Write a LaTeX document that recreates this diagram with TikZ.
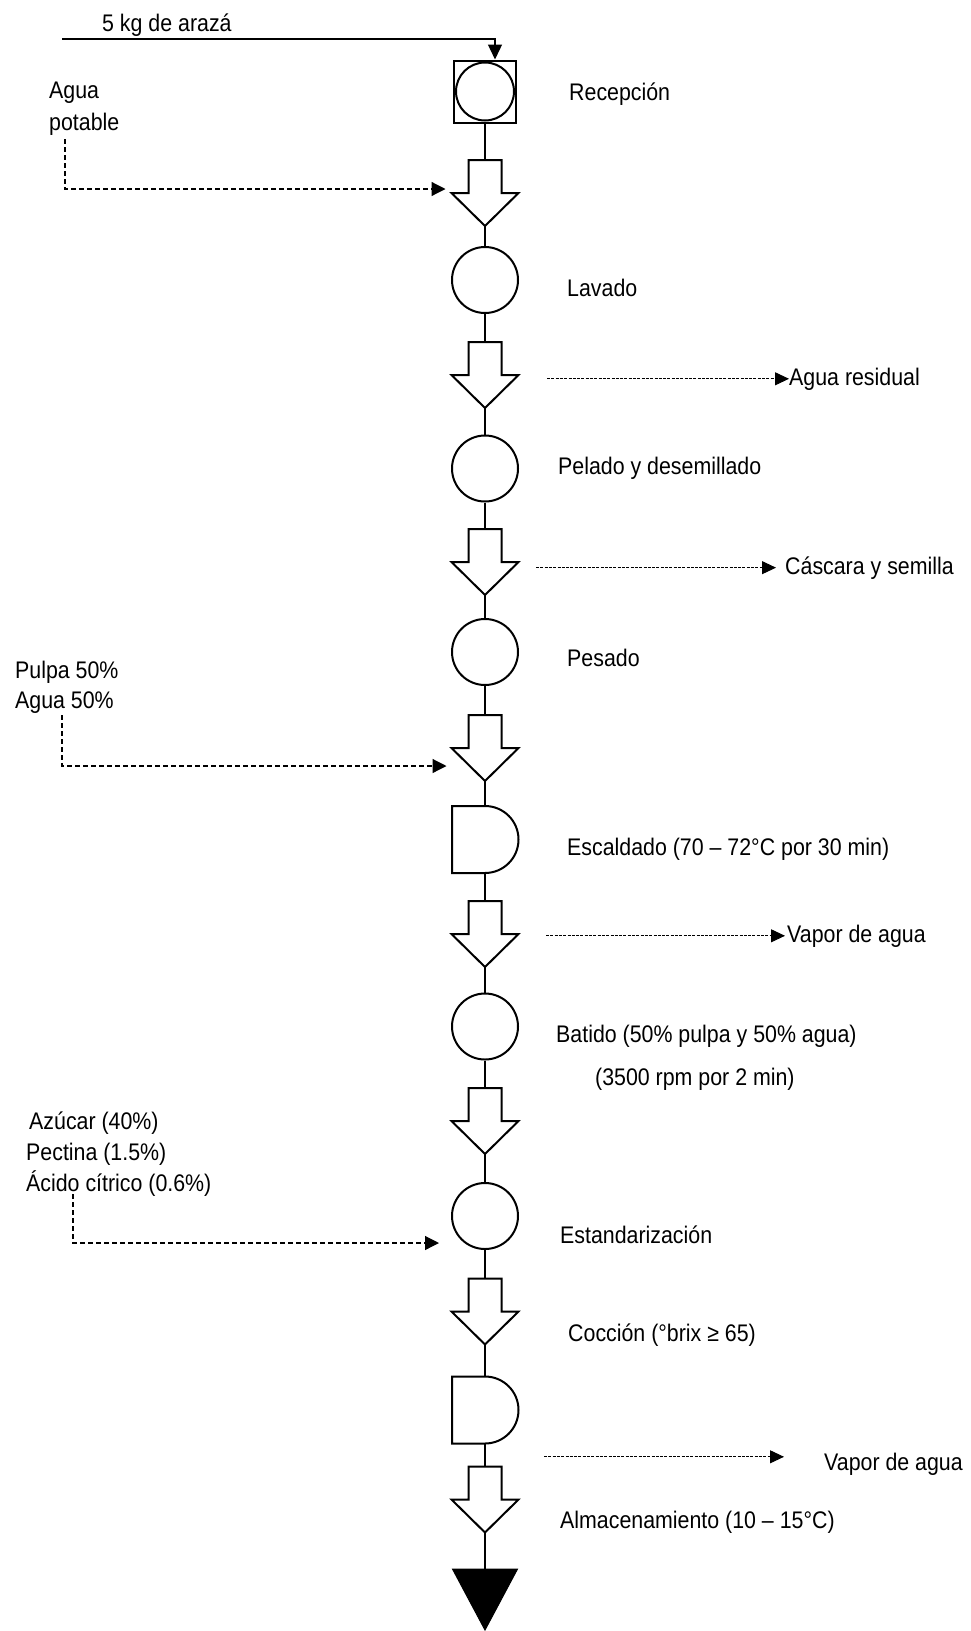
\documentclass[tikz,border=0pt]{standalone}
\usepackage{fontspec}
\setmainfont{Liberation Sans}[FakeStretch=0.89]
\usetikzlibrary{arrows.meta,positioning}

\tikzset{
    forma/.style={draw, line width=2pt, fill=white},
    operacion/.style={forma, circle, minimum size=66pt, inner sep=0pt},
    texto/.style={anchor=base west, inner sep=0pt, font=\fontsize{24}{28}\selectfont},
    materia/.style={line width=1.3pt, -{Triangle[length=15pt, width=14pt]}},
    entrada/.style={line width=1.2pt, dash pattern=on 5pt off 3pt, -{Triangle[length=14pt, width=14pt]}},
    salida/.style={line width=1pt, dash pattern=on 3pt off 1.3pt, -{Triangle[length=14pt, width=13pt]}},
    union/.style={line width=2pt},
    flecha/.pic={
        \draw[forma] (-16.5,33) -- (16.5,33) -- (16.5,0) -- (33.5,0) -- (0,-33) -- (-33.5,0) -- (-16.5,0) -- cycle;
        \coordinate (-arriba) at (0,33);
        \coordinate (-abajo) at (0,-33);
        \coordinate (-izq) at (-33.5,0);
        \coordinate (-der) at (33.5,0);
    },
    demora/.pic={
        \draw[forma] (0,33.5) -- (-33,33.5) -- (-33,-33.5) -- (0,-33.5) arc (-90:90:33.5) -- cycle;
        \coordinate (-arriba) at (0,33.5);
        \coordinate (-abajo) at (0,-33.5);
        \coordinate (-der) at (33.5,0);
    },
    almacen/.pic={
        \filldraw[line width=1pt, line join=miter] (-32.5,30.5) -- (32.5,30.5) -- (0,-30.5) -- cycle;
        \coordinate (-arriba) at (0,30.5);
    },
}

\begin{document}
\begin{tikzpicture}[x=1pt, y=1pt]
    \useasboundingbox (0,0) rectangle (970,-1631);

    % columna del proceso
    \node[forma, rectangle, minimum size=62pt, inner sep=0pt] (recepcion) at (485,-91.5) {};
    \node[forma, circle, minimum size=58pt, inner sep=0pt] (recepcion-c) at (recepcion) {};
    \pic (f1) at (485,-193) {flecha};
    \node[operacion] (lavado) at (485,-280) {};
    \pic (f2) at (485,-375) {flecha};
    \node[operacion] (pelado) at (485,-468.5) {};
    \pic (f3) at (485,-562) {flecha};
    \node[operacion] (pesado) at (485,-652) {};
    \pic (f4) at (485,-748) {flecha};
    \pic (d1) at (485,-839.5) {demora};
    \pic (f5) at (485,-934) {flecha};
    \node[operacion] (batido) at (485,-1026.5) {};
    \pic (f6) at (485,-1121) {flecha};
    \node[operacion] (estandar) at (485,-1216) {};
    \pic (f7) at (485,-1311.5) {flecha};
    \pic (d2) at (485,-1410) {demora};
    \pic (f8) at (485,-1499.5) {flecha};
    \pic (fin) at (485,-1599.5) {almacen};

    \foreach \a/\b in {recepcion.south/f1-arriba, f1-abajo/lavado.north, lavado.south/f2-arriba,
        f2-abajo/pelado.north, pelado.south/f3-arriba, f3-abajo/pesado.north, pesado.south/f4-arriba,
        f4-abajo/d1-arriba, d1-abajo/f5-arriba, f5-abajo/batido.north, batido.south/f6-arriba,
        f6-abajo/estandar.north, estandar.south/f7-arriba, f7-abajo/d2-arriba, d2-abajo/f8-arriba,
        f8-abajo/fin-arriba}
        \draw[union] (\a) -- (\b);

    % textos de las operaciones
    \node[texto] (recepciontxt) at (569,-100) {Recepción};
    \node[texto] (lavadotxt) at (567,-296) {Lavado};
    \node[texto] (peladotxt) at (558,-474) {Pelado y desemillado};
    \node[texto] (pesadotxt) at (567,-666) {Pesado};
    \node[texto] (escaldadotxt) at (567,-855) {Escaldado (70 – 72°C por 30 min)};
    \node[texto] (batidotxt) at (556,-1042) {Batido (50\% pulpa y 50\% agua)};
    \node[texto] (rpmtxt) at (595,-1085) {(3500 rpm por 2 min)};
    \node[texto] (estandartxt) at (560,-1243) {Estandarización};
    \node[texto] (cocciontxt) at (568,-1341) {Cocción (°brix ≥ 65)};
    \node[texto] (almacentxt) at (560,-1528) {Almacenamiento (10 – 15°C)};

    % entradas
    \node[texto] (arazatxt) at (102,-31) {5 kg de arazá};
    \coordinate (inicio) at (62,-39);
    \draw[materia] (inicio) -| ([xshift=10pt]recepcion.north);

    \node[texto] (agua) at (49,-98) {Agua};
    \node[texto] (potable) at ([yshift=-32pt]agua.base west) {potable};
    \coordinate (e1) at (65,-139);
    \draw[entrada, shorten >=6pt] (e1) |- ([yshift=4pt]f1-izq);

    \node[texto] (pulpa) at (15,-678) {Pulpa 50\%};
    \node[texto] (agua2) at ([yshift=-30pt]pulpa.base west) {Agua 50\%};
    \coordinate (e2) at (62,-715);
    \draw[entrada, shorten >=5pt] (e2) |- ([yshift=-18pt]f4-izq);

    \node[texto] (azucar) at (29,-1129) {Azúcar (40\%)};
    \node[texto] (pectina) at (26,-1160) {Pectina (1.5\%)};
    \node[texto] (acido) at (26,-1191) {Ácido cítrico (0.6\%)};
    \coordinate (e3) at (73,-1194);
    \draw[entrada, shorten >=12pt] (e3) |- ([yshift=-27pt]estandar.west);

    % salidas
    \node[texto] (aguares) at (789,-385) {Agua residual};
    \draw[salida] (aguares.west -| f2-der) ++(28.5,0) -- (aguares.west);

    \node[texto] (cascara) at (785,-574) {Cáscara y semilla};
    \draw[salida, shorten >=9pt] (cascara.west -| f3-der) ++(17.5,0) -- (cascara.west);

    \node[texto] (vapor1) at (787,-942) {Vapor de agua};
    \draw[salida, shorten >=2pt] (vapor1.west -| f5-der) ++(27.5,0) -- (vapor1.west);

    \node[texto] (vapor2) at (824,-1470) {Vapor de agua};
    \coordinate (v2) at ([yshift=7pt]vapor2.west);
    \draw[salida, shorten >=40pt] (v2 -| d2-der) ++(25.5,0) -- (v2);
\end{tikzpicture}
\end{document}
